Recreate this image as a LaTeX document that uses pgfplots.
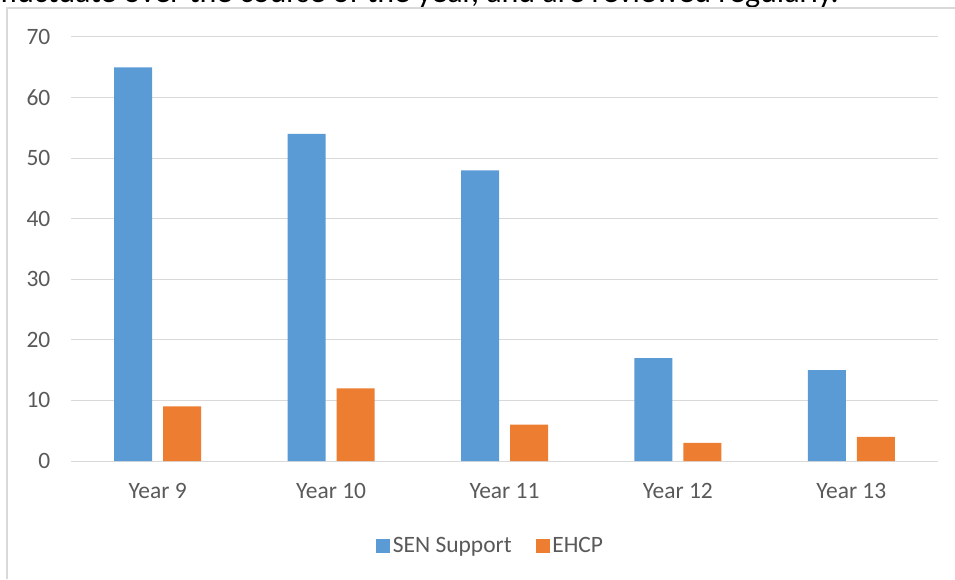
\documentclass[border=0pt]{standalone}
\usepackage{pgfplots}
\pgfplotsset{compat=1.18}
\usepackage{fontspec}
\setmainfont{Carlito}
\definecolor{senblue}{HTML}{5B9BD5}
\definecolor{ehcporange}{HTML}{ED7D31}
\definecolor{gridgray}{HTML}{D9D9D9}
\definecolor{txtgray}{HTML}{595959}
\begin{document}
\begin{tikzpicture}
\useasboundingbox (0,0) rectangle (716.25pt,434.25pt);
\clip (0,0) rectangle (716.25pt,434.25pt);
\node[anchor=base west, inner sep=0, font=\fontsize{24}{28}\selectfont] at (0pt,432pt) {fluctuate over the course of the year, and are reviewed regularly.};
\draw[gridgray, line width=0.9pt] (5.25pt,0) -- (5.25pt,428.25pt) -- (716.25pt,428.25pt);
\begin{axis}[
  at={(53.25pt,88.5pt)}, anchor=south west,
  scale only axis, width=650.25pt, height=318pt,
  xmin=-0.5, xmax=4.5, ymin=0, ymax=70,
  ybar=8.25pt, bar width=28.5pt,
  xtick=data, xticklabels={Year 9,Year 10,Year 11,Year 12,Year 13},
  ytick={0,10,...,70},
  ymajorgrids, major grid style={gridgray, line width=0.75pt},
  axis line style={draw=none},
  major tick length=0pt,
  tick label style={font=\fontsize{17.6}{20}\selectfont, text=txtgray},
  /pgf/number format/assume math mode=true,
  yticklabel style={xshift=-12pt},
  xticklabel style={yshift=-13.5pt},
  legend style={at={(0.4844,-0.2005)}, anchor=center, draw=none, legend columns=2,
    font=\fontsize{17.6}{20}\selectfont, text=txtgray,
    /tikz/every even column/.append style={column sep=16pt}},
  legend image code/.code={\fill[#1] (-2pt,-5.25pt) rectangle (8.5pt,5.25pt);},
]
\addplot[fill=senblue, draw=none] coordinates {(0,65) (1,54) (2,48) (3,17) (4,15)};
\addplot[fill=ehcporange, draw=none] coordinates {(0,9) (1,12) (2,6) (3,3) (4,4)};
\legend{SEN Support, EHCP}
\end{axis}
\end{tikzpicture}
\end{document}
